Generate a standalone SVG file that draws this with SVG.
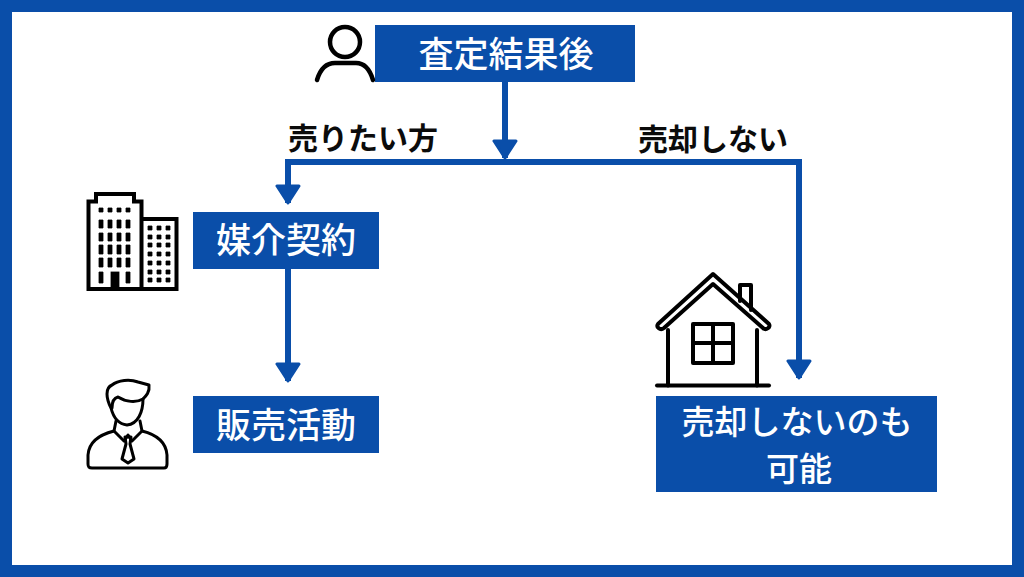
<svg xmlns="http://www.w3.org/2000/svg" width="1024" height="577" viewBox="0 0 1024 577">
<style>
.box{fill:#0a4ea9}
.t{font-family:"Noto Sans CJK JP","Noto Sans CJK SC",sans-serif;font-size:35px;font-weight:500;fill:#fff;text-anchor:middle}
.l{font-family:"Noto Sans CJK JP","Noto Sans CJK SC",sans-serif;font-size:30px;font-weight:700;fill:#0b0b0b;text-anchor:middle}
.c{fill:none;stroke:#0a4ea9;stroke-width:6}
.i{fill:none;stroke:#000;stroke-width:4;stroke-linecap:round;stroke-linejoin:round}
.w{fill:#000;stroke:#000;stroke-width:.8}
</style>
<defs>
<marker id="a" markerUnits="userSpaceOnUse" markerWidth="28" markerHeight="22" refX="14" refY="20" orient="0" viewBox="0 0 28 22">
<path d="M3 3H25L14 20Z" fill="#0a4ea9" stroke="#0a4ea9" stroke-width="3" stroke-linejoin="round"/>
</marker>
</defs>
<rect id="frame" x="6" y="6" width="1012" height="565" fill="#fff" stroke="#0a4ea9" stroke-width="12"/>
<g id="connectors">
<path class="c" d="M505 82V158" marker-end="url(#a)"/>
<path class="c" d="M288 203V162H799V378" marker-end="url(#a)"/>
<path class="c" d="M288 180V203" marker-end="url(#a)"/>
<path class="c" d="M288 269V381" marker-end="url(#a)"/>
</g>
<g id="label-sell"><text class="l" x="363" y="149">売りたい方</text></g>
<g id="label-nosell"><text class="l" x="713" y="150">売却しない</text></g>
<g id="node-satei">
<rect class="box" x="375" y="25" width="260" height="57"/>
<text class="t" x="506" y="67">査定結果後</text>
</g>
<g id="node-baikai">
<rect class="box" x="193" y="212" width="186" height="57"/>
<text class="t" x="286" y="253">媒介契約</text>
</g>
<g id="node-hanbai">
<rect class="box" x="193" y="396" width="186" height="57"/>
<text class="t" x="286" y="438">販売活動</text>
</g>
<g id="node-kanou">
<rect class="box" x="656" y="396" width="281" height="96"/>
<text class="t" x="797" y="434" style="font-size:33px">売却しないのも</text>
<text class="t" x="799" y="481" style="font-size:33px">可能</text>
</g>
<g id="icon-person" class="i" style="stroke-width:4.5">
<circle cx="345" cy="42" r="15"/>
<path d="M317 80C320 70 325 63 335 63H356C365 63 370 70 373 80"/>
</g>
<g id="icon-building">
<path d="M96 194H134V201.500H141.500V289H88.500V201.500H96Z M143 219H176.500V289H143" fill="none" stroke="#000" stroke-width="4"/>
<path class="w" d="M99 208h4v4h-4zM108 208h4v4h-4zM117 208h4v4h-4zM126 208h4v4h-4z"/>
<path class="w" d="M99 220h4v8h-4zM108 220h4v8h-4zM117 220h4v8h-4zM126 220h4v8h-4zM99 233h4v8h-4zM108 233h4v8h-4zM117 233h4v8h-4zM126 233h4v8h-4zM99 245h4v9h-4zM108 245h4v9h-4zM117 245h4v9h-4zM126 245h4v9h-4zM99 258h4v9h-4zM108 258h4v9h-4zM117 258h4v9h-4zM126 258h4v9h-4zM99 272h4v11h-4zM126 272h4v11h-4z"/>
<rect class="w" x="111" y="272" width="8" height="18"/>
<path class="w" d="M148 226h4v4h-4zM157 226h4v4h-4zM166 226h4v4h-4zM148 235h4v4h-4zM157 235h4v4h-4zM166 235h4v4h-4zM148 243h4v4h-4zM157 243h4v4h-4zM166 243h4v4h-4zM148 252h4v4h-4zM157 252h4v4h-4zM166 252h4v4h-4zM148 261h4v4h-4zM157 261h4v4h-4zM166 261h4v4h-4zM148 270h4v4h-4zM157 270h4v4h-4zM166 270h4v4h-4zM148 278h4v4h-4zM157 278h4v4h-4zM166 278h4v4h-4z"/>
</g>
<g id="icon-man" class="i" style="stroke-width:3">
<path d="M111 408C106 398 105 388 112 385C118 380 130 379 138 382L149 385C150 392 146 396 143 399C143 412 138 424 127 425C118 424 113 416 111 408Z"/>
<path d="M112 408C112 401 114 398 118 397C126 402 136 403 143 399"/>
<path d="M116 421L114 431L124 441L128 435L132 441L142 431L140 421"/>
<path d="M114 431C102 434 89 440 88 455V464C88 467 89 468 92 468H164C166 468 167 467 167 464V455C166 440 154 434 142 431"/>
<path d="M125 437L131 437L130 444L134 459L128 463L122 459L126 444Z"/>
</g>
<g id="icon-house" class="i">
<path d="M668 385.500V330M757 385.500V330" />
<path d="M657 385.500H769" />
<path d="M658 324C656 327 660 331 664 328L713 284L763 328C766 331 771 327 769 324L713 274Z"/>
<path d="M740 301V285H751V310"/>
<rect x="693" y="324" width="40" height="39"/>
<path d="M713 324V363M693 343H733"/>
</g>
</svg>
